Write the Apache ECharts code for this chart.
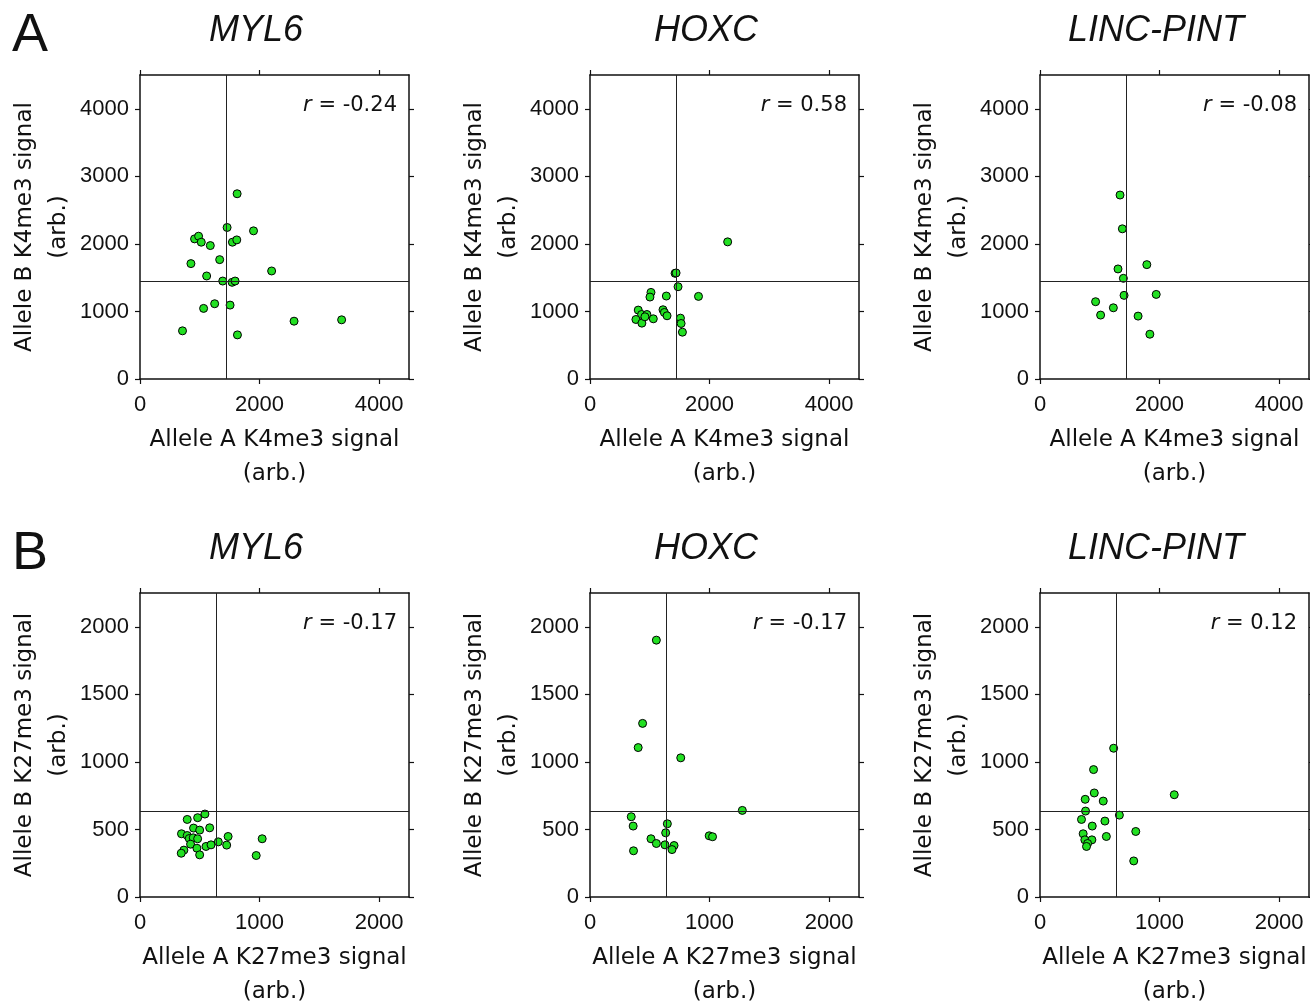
<!DOCTYPE html>
<html><head><meta charset="utf-8">
<script src="https://cdn.jsdelivr.net/npm/echarts@6/dist/echarts.min.js"></script>
<style>html,body{margin:0;padding:0;background:#fff}#c{width:1310px;height:1004px}</style>
</head><body><div id="c"></div>
<script>
// ---- data ----
const genes = ['MYL6', 'HOXC', 'LINC-PINT'];
const rowLetters = ['A', 'B'];
const k4Names = ['Allele A K4me3 signal\n(arb.)', 'Allele B K4me3 signal\n(arb.)'];
const k27Names = ['Allele A K27me3 signal\n(arb.)', 'Allele B K27me3 signal\n(arb.)'];
const k4XTicks = [0, 2000, 4000];
const k4YTicks = [0, 1000, 2000, 3000, 4000];
const k27XTicks = [0, 1000, 2000];
const k27YTicks = [0, 500, 1000, 1500, 2000];
const k4Max = 4500, k27Max = 2250;
const k4Mean = 1440, k27Mean = 634;
const k4R = ['-0.24', '0.58', '-0.08'];
const k27R = ['-0.17', '-0.17', '0.12'];

const k4MYL6 = [[1625,2742],[1457,2243],[1899,2193],[913,2074],[980,2114],[1025,2025],[1176,1975],[1546,2025],[1619,2059],[1333,1767],[852,1708],[1115,1525],[2202,1599],[1384,1450],[1541,1431],[1591,1450],[1064,1045],[1249,1114],[1507,1094],[711,713],[2577,856],[3373,876],[1630,653]];
const k4HOXC = [[2303,2030],[1423,1564],[1440,1570],[1473,1366],[1020,1282],[1003,1213],[1277,1228],[1815,1223],[807,1020],[863,955],[952,955],[768,881],[868,827],[1059,891],[1221,1025],[1244,985],[1289,936],[1513,901],[1524,822],[1546,693],[919,921]];
const k4PINT = [[1339,2723],[1378,2223],[1787,1693],[1305,1629],[1395,1490],[1406,1238],[1944,1252],[930,1144],[1227,1054],[1014,946],[1641,931],[1838,663]];
const k27MYL6 = [[543,614],[482,587],[395,574],[448,510],[499,495],[583,512],[347,468],[395,455],[412,433],[445,438],[482,431],[423,391],[476,361],[367,347],[345,324],[499,312],[552,374],[594,386],[655,408],[737,448],[725,384],[1022,431],[972,307]];
const k27HOXC = [[555,1901],[440,1285],[403,1106],[759,1030],[1274,641],[345,594],[361,525],[647,542],[633,475],[510,431],[555,396],[627,386],[703,381],[686,351],[997,453],[1025,446],[364,342]];
const k27PINT = [[616,1101],[448,943],[1123,757],[454,770],[378,723],[529,710],[381,636],[664,606],[347,574],[437,525],[543,562],[361,468],[801,485],[555,448],[375,423],[434,423],[398,396],[389,374],[784,267]];

const panels = [
  {data: k4MYL6, row: 0, col: 0}, {data: k4HOXC, row: 0, col: 1}, {data: k4PINT, row: 0, col: 2},
  {data: k27MYL6, row: 1, col: 0}, {data: k27HOXC, row: 1, col: 1}, {data: k27PINT, row: 1, col: 2}
];

// ---- layout ----
const FONT = 'DejaVu Sans';
const TFONT = 'Liberation Sans';
const colLeft = [140, 590, 1040];
const rowTop = [75, 593];
const W = 269, H = 304;

const grid = [], xAxis = [], yAxis = [], series = [], graphic = [];
const lineStyle = {color: '#111', width: 1.5};
const plain = v => String(v);

panels.forEach((p, i) => {
  const isK4 = p.row === 0;
  const max = isK4 ? k4Max : k27Max;
  const xt = isK4 ? k4XTicks : k27XTicks;
  const yt = isK4 ? k4YTicks : k27YTicks;
  const names = isK4 ? k4Names : k27Names;
  const mean = isK4 ? k4Mean : k27Mean;
  grid.push({left: colLeft[p.col], top: rowTop[p.row], width: W, height: H,
    containLabel: false, outerBoundsMode: 'none'});
  const base = {type: 'value', gridIndex: i, min: 0, max: max, splitLine: {show: false},
    axisLine: {show: true, onZero: false, lineStyle: lineStyle},
    axisTick: {show: true, length: 5, lineStyle: {color: '#111', width: 1.2}}};
  xAxis.push(Object.assign({}, base, {position: 'bottom',
    axisTick: Object.assign({}, base.axisTick, {customValues: xt}),
    axisLabel: {customValues: xt, formatter: plain, fontFamily: TFONT, fontSize: 22, color: '#111', margin: 15},
    name: names[0], nameLocation: 'middle', nameGap: 44,
    nameTextStyle: {fontFamily: FONT, fontSize: 23, color: '#111', lineHeight: 34}}));
  xAxis.push(Object.assign({}, base, {position: 'top',
    axisTick: Object.assign({}, base.axisTick, {customValues: xt}),
    axisLabel: {show: false}}));
  yAxis.push(Object.assign({}, base, {position: 'left',
    axisTick: Object.assign({}, base.axisTick, {customValues: yt}),
    axisLabel: {customValues: yt, formatter: plain, fontFamily: TFONT, fontSize: 22, color: '#111', margin: 11},
    name: names[1], nameLocation: 'middle', nameGap: 56, nameRotate: 90,
    nameTextStyle: {fontFamily: FONT, fontSize: 23, color: '#111', lineHeight: 34}}));
  yAxis.push(Object.assign({}, base, {position: 'right',
    axisTick: Object.assign({}, base.axisTick, {customValues: yt}),
    axisLabel: {show: false}}));
  series.push({type: 'scatter', xAxisIndex: 2 * i, yAxisIndex: 2 * i, data: p.data,
    symbol: 'circle', symbolSize: 8,
    itemStyle: {color: '#22e022', borderColor: '#000', borderWidth: 1, opacity: 1},
    markLine: {silent: true, symbol: 'none', label: {show: false}, animation: false,
      lineStyle: {color: '#222', width: 1, type: 'solid'},
      data: [{xAxis: mean}, {yAxis: mean}]},
    z: 3});
  // r label
  const r = isK4 ? k4R[p.col] : k27R[p.col];
  graphic.push({type: 'text', x: colLeft[p.col] + W - 12, y: rowTop[p.row] + 31,
    style: {text: '{i|r} = ' + r, align: 'right', verticalAlign: 'middle',
      font: '21px "DejaVu Sans"', fill: '#111',
      rich: {i: {fontStyle: 'italic', fontFamily: FONT, fontSize: 21, fill: '#111'}}}});
  // gene title
  graphic.push({type: 'text', x: colLeft[p.col] + 116, y: rowTop[p.row] - 44,
    style: {text: genes[p.col], align: 'center', verticalAlign: 'middle',
      font: 'italic 36px "Liberation Sans"', fill: '#111'}});
});
rowLetters.forEach((L, r) => {
  graphic.push({type: 'text', x: 30, y: rowTop[r] - 39,
    style: {text: L, align: 'center', verticalAlign: 'middle', font: '54px "Liberation Sans"', fill: '#111'}});
});

const chart = echarts.init(document.getElementById('c'), null, {renderer: 'canvas'});
chart.setOption({animation: false, backgroundColor: '#fff', grid, xAxis, yAxis, series, graphic});
</script></body></html>
